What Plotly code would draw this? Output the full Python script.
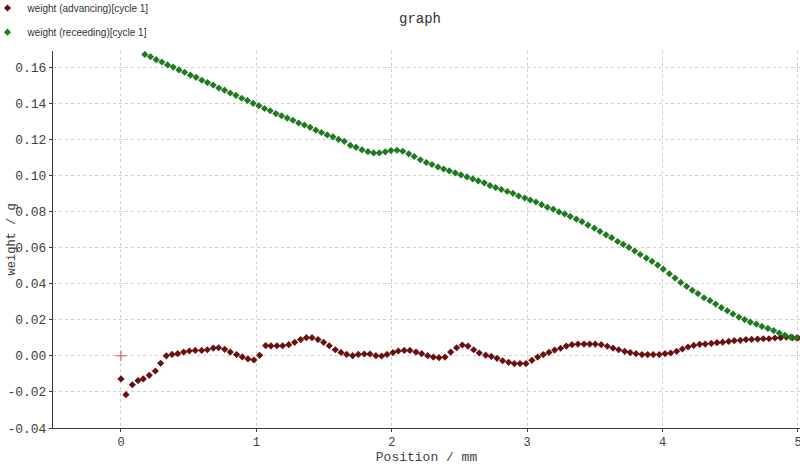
import plotly.graph_objects as go

# weight (advancing)[cycle 1]
adv_x = [0.000, 0.037, 0.084, 0.126, 0.165, 0.209, 0.254, 0.293, 0.335, 0.377,
         0.419, 0.463, 0.505, 0.549, 0.596, 0.638, 0.682, 0.721, 0.766, 0.807,
         0.854, 0.896, 0.938, 0.982, 1.024, 1.069, 1.108, 1.152, 1.194, 1.239,
         1.283, 1.327, 1.369, 1.411, 1.455, 1.497, 1.538, 1.583, 1.625, 1.667,
         1.711, 1.753, 1.797, 1.839, 1.883, 1.925, 1.965, 2.009, 2.048, 2.092,
         2.134, 2.179, 2.221, 2.265, 2.307, 2.349, 2.393, 2.435, 2.479, 2.521,
         2.563, 2.605, 2.646, 2.694, 2.735, 2.777, 2.819, 2.863, 2.905, 2.947,
         2.991, 3.035, 3.078, 3.119, 3.161, 3.203, 3.247, 3.289, 3.331, 3.375,
         3.420, 3.462, 3.503, 3.547, 3.592, 3.634, 3.676, 3.720, 3.761, 3.804,
         3.848, 3.890, 3.931, 3.976, 4.018, 4.060, 4.104, 4.146, 4.188, 4.230,
         4.274, 4.315, 4.360, 4.402, 4.444, 4.488, 4.530, 4.574, 4.616, 4.658,
         4.702, 4.744, 4.786, 4.830, 4.872, 4.914, 4.958, 5.000]
adv_y = [-0.0128, -0.0215, -0.0160, -0.0137, -0.0128, -0.0108, -0.0084, -0.0041, 0.0000, 0.0008,
         0.0012, 0.0021, 0.0027, 0.0030, 0.0030, 0.0034, 0.0043, 0.0045, 0.0036, 0.0021,
         0.0007, -0.0006, -0.0017, -0.0023, 0.0003, 0.0057, 0.0055, 0.0056, 0.0056, 0.0062,
         0.0075, 0.0090, 0.0101, 0.0101, 0.0090, 0.0075, 0.0056, 0.0034, 0.0019, 0.0008,
         0.0001, 0.0008, 0.0010, 0.0010, 0.0001, -0.0001, 0.0008, 0.0018, 0.0027, 0.0030,
         0.0030, 0.0021, 0.0012, 0.0001, -0.0007, -0.0010, -0.0007, 0.0021, 0.0045, 0.0060,
         0.0054, 0.0034, 0.0016, 0.0004, -0.0003, -0.0014, -0.0027, -0.0036, -0.0043, -0.0043,
         -0.0043, -0.0025, -0.0007, 0.0007, 0.0019, 0.0032, 0.0042, 0.0054, 0.0062, 0.0065,
         0.0065, 0.0065, 0.0065, 0.0062, 0.0053, 0.0043, 0.0034, 0.0025, 0.0018, 0.0012,
         0.0007, 0.0007, 0.0007, 0.0007, 0.0012, 0.0016, 0.0025, 0.0038, 0.0049, 0.0058,
         0.0064, 0.0065, 0.0069, 0.0073, 0.0076, 0.0080, 0.0084, 0.0086, 0.0090, 0.0091,
         0.0093, 0.0095, 0.0095, 0.0099, 0.0101, 0.0104, 0.0101, 0.0099]

# weight (receeding)[cycle 1]
rec_x = [0.176, 0.218, 0.260, 0.302, 0.344, 0.386, 0.428, 0.470, 0.513, 0.555,
         0.597, 0.639, 0.681, 0.723, 0.765, 0.807, 0.849, 0.892, 0.934, 0.976,
         1.018, 1.060, 1.102, 1.144, 1.186, 1.228, 1.270, 1.312, 1.355, 1.397,
         1.439, 1.481, 1.523, 1.565, 1.607, 1.649, 1.694, 1.736, 1.780, 1.824,
         1.866, 1.908, 1.952, 1.994, 2.038, 2.081, 2.125, 2.166, 2.211, 2.255,
         2.297, 2.341, 2.383, 2.425, 2.469, 2.511, 2.555, 2.598, 2.639, 2.683,
         2.725, 2.767, 2.809, 2.853, 2.895, 2.937, 2.982, 3.023, 3.065, 3.107,
         3.149, 3.193, 3.235, 3.277, 3.318, 3.363, 3.405, 3.449, 3.496, 3.538,
         3.582, 3.624, 3.668, 3.710, 3.752, 3.794, 3.835, 3.880, 3.922, 3.964,
         4.005, 4.050, 4.092, 4.134, 4.178, 4.219, 4.261, 4.306, 4.350, 4.392,
         4.434, 4.478, 4.520, 4.564, 4.606, 4.648, 4.692, 4.734, 4.778, 4.820,
         4.862, 4.904, 4.946, 4.988]
rec_y = [0.1671, 0.1658, 0.1642, 0.1629, 0.1613, 0.1601, 0.1585, 0.1572, 0.1556, 0.1544,
         0.1528, 0.1515, 0.1501, 0.1485, 0.1473, 0.1457, 0.1444, 0.1428, 0.1416, 0.1400,
         0.1387, 0.1371, 0.1359, 0.1343, 0.1331, 0.1318, 0.1306, 0.1291, 0.1280, 0.1267,
         0.1251, 0.1238, 0.1225, 0.1214, 0.1200, 0.1189, 0.1167, 0.1156, 0.1142, 0.1132,
         0.1125, 0.1125, 0.1131, 0.1138, 0.1140, 0.1134, 0.1120, 0.1105, 0.1087, 0.1072,
         0.1061, 0.1047, 0.1036, 0.1025, 0.1014, 0.1003, 0.0992, 0.0981, 0.0970, 0.0959,
         0.0944, 0.0933, 0.0922, 0.0911, 0.0901, 0.0886, 0.0875, 0.0864, 0.0853, 0.0838,
         0.0824, 0.0813, 0.0798, 0.0787, 0.0773, 0.0758, 0.0744, 0.0725, 0.0708, 0.0690,
         0.0671, 0.0655, 0.0634, 0.0618, 0.0601, 0.0581, 0.0562, 0.0542, 0.0524, 0.0503,
         0.0481, 0.0455, 0.0431, 0.0407, 0.0385, 0.0363, 0.0345, 0.0322, 0.0306, 0.0287,
         0.0267, 0.0250, 0.0232, 0.0215, 0.0201, 0.0187, 0.0176, 0.0163, 0.0152, 0.0140,
         0.0126, 0.0114, 0.0104, 0.0099]

# red cursor mark at the origin
mark_x = [0.0]
mark_y = [0.0]

x_ticks = [0, 1, 2, 3, 4, 5]
y_ticks = [-0.04, -0.02, 0.00, 0.02, 0.04, 0.06, 0.08, 0.10, 0.12, 0.14, 0.16]

MONO = "Liberation Mono"
AXIS_COLOR = "#3c3c3c"
GRID_COLOR = "#cfcfcf"

fig = go.Figure()

fig.add_trace(go.Scatter(
    x=adv_x, y=adv_y, mode="markers",
    name="weight (advancing)[cycle 1]",
    marker=dict(symbol="diamond", size=5.5, color="#6a0f0f"),
    legend="legend",
))

fig.add_trace(go.Scatter(
    x=rec_x, y=rec_y, mode="markers",
    name="weight (receeding)[cycle 1]",
    marker=dict(symbol="diamond", size=5.5, color="#1f7a1f"),
    legend="legend2",
))

fig.add_trace(go.Scatter(
    x=mark_x, y=mark_y, mode="markers",
    showlegend=False,
    marker=dict(symbol="cross-thin", size=8, line=dict(color="#e05050", width=1)),
))

legend_style = dict(
    xanchor="left", yanchor="middle",
    font=dict(family="Liberation Sans", size=10, color="#333333"),
    bgcolor="rgba(0,0,0,0)", itemwidth=30,
)

fig.update_layout(
    width=800,
    height=465,
    template="plotly_white",
    plot_bgcolor="white",
    paper_bgcolor="white",
    margin=dict(l=53, r=0, t=51, b=37, autoexpand=False),
    title=dict(text="graph", x=0.525, xanchor="center", y=0.961, yanchor="middle",
               font=dict(family=MONO, size=14, color="#333333")),
    legend=dict(x=-0.0877, y=1.114, **legend_style),
    legend2=dict(x=-0.0877, y=1.050, **legend_style),
    xaxis=dict(
        range=[-0.502, 5.015], tickvals=x_ticks, ticktext=[str(v) for v in x_ticks],
        automargin=False, ticklabeloverflow="allow",
        showgrid=True, gridcolor=GRID_COLOR, griddash="dot", gridwidth=1,
        zeroline=False, showline=True, linecolor=AXIS_COLOR, linewidth=1,
        ticks="outside", ticklen=3, tickcolor=AXIS_COLOR,
        tickfont=dict(family=MONO, size=12, color="#404040"),
        title=dict(text="Position / mm", standoff=1,
                   font=dict(family=MONO, size=13, color="#404040")),
    ),
    yaxis=dict(
        range=[-0.04, 0.169], tickvals=y_ticks, ticktext=[f"{v:.2f}" for v in y_ticks],
        automargin=False,
        showgrid=True, gridcolor=GRID_COLOR, griddash="dot", gridwidth=1,
        zeroline=False, showline=True, linecolor=AXIS_COLOR, linewidth=1,
        ticks="outside", ticklen=3, tickcolor=AXIS_COLOR,
        tickfont=dict(family=MONO, size=13, color="#404040"),
    ),
)

# y title sits closer to the tick labels than plotly's own title would
fig.add_annotation(
    text="weight / g", textangle=-90, showarrow=False,
    xref="paper", yref="paper", x=-0.055, y=0.5, xanchor="center", yanchor="middle",
    font=dict(family=MONO, size=12, color="#404040"),
)

# drop the default 8px body margin so the figure sits at the window's corner
fig.write_html("out.html", config={"displayModeBar": False},
               post_script="document.body.style.margin = '0px';")
